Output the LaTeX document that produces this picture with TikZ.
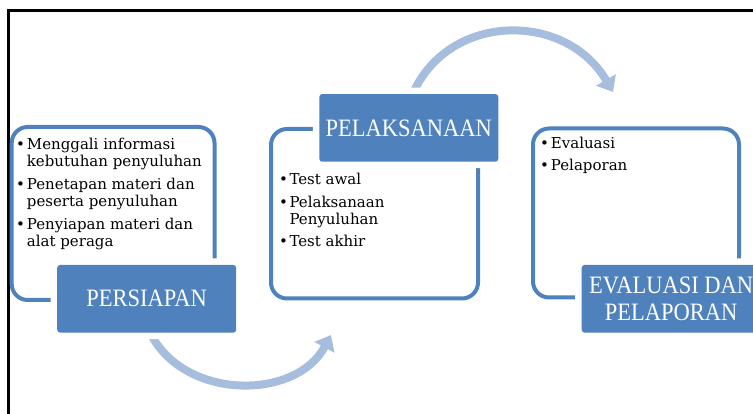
\documentclass[tikz,border=0pt]{standalone}
\usepackage{fontspec}
\usetikzlibrary{arrows.meta}
\newfontfamily\bodyfont{DejaVu Serif}
\newfontfamily\titlefont[FakeStretch=0.9]{Liberation Serif}
\definecolor{boxblue}{HTML}{4F81BD}
\definecolor{arrowblue}{HTML}{A7BDDD}
\begin{document}
\begin{tikzpicture}[x=1pt,y=-1pt,
  outline/.style={draw=boxblue, line width=4pt, rounded corners=16pt, inner sep=0pt},
  titlebox/.style={fill=boxblue, rounded corners=3pt, preaction={draw=white, line width=13pt},
    text=white, font=\titlefont\fontsize{25}{27}\selectfont, align=center, inner sep=0pt,
    minimum width=179pt, minimum height=67.7pt},
  flow/.style={draw=arrowblue, line width=8pt, -{Triangle[width=22pt,length=14pt]}},
  item/.style={anchor=base west, inner sep=0pt, font=\bodyfont\fontsize{15}{17}\selectfont}]
\useasboundingbox (0,0) rectangle (753,414);
\clip (0,0) rectangle (753,414);
% frame
\draw[line width=3.5pt] (8.7,430) -- (8.7,10.3) -- (770,10.3);
% outline boxes
\node[outline, minimum width=202.8pt, minimum height=173pt] (b1) at (113.1,213.5) {};
\node[outline, minimum width=207pt, minimum height=169.5pt] (b2) at (374.5,213.75) {};
\node[outline, minimum width=206pt, minimum height=169pt] (b3) at (636,213) {};
% arrows
\coordinate (a1s) at (149,330);
\coordinate (a1e) at (331,335);
\coordinate (a2s) at (411,98);
\coordinate (a2e) at (613,92);
\draw[flow] (a1s) .. controls (180,400) and (295,402) .. (a1e);
\draw[flow] (a2s) .. controls (445,12) and (565,10) .. (a2e);
% title boxes
\node[titlebox] (t1) at (146.7,298.8) {PERSIAPAN};
\node[titlebox] (t2) at (408.8,127.9) {PELAKSANAAN};
\node[titlebox] (t3) at (671.2,298.8) {EVALUASI DAN\\PELAPORAN};
% box 1 text
\node[item] (p1b) at (16,150) {•};
\node[item] (p1a) at (26.7,150) {Menggali informasi};
\node[item] (p1c) at (26.7,167) {kebutuhan penyuluhan};
\node[item] (p2b) at (16,190) {•};
\node[item] (p2a) at (26.7,190) {Penetapan materi dan};
\node[item] (p2c) at (26.7,207) {peserta penyuluhan};
\node[item] (p3b) at (16,229.5) {•};
\node[item] (p3a) at (26.7,229.5) {Penyiapan materi dan};
\node[item] (p3c) at (26.7,246.7) {alat peraga};
% box 2 text
\node[item] (q1b) at (279,185) {•};
\node[item] (q1a) at (289.3,185) {Test awal};
\node[item] (q2b) at (279,208) {•};
\node[item] (q2a) at (289.3,208) {Pelaksanaan};
\node[item] (q2c) at (289.3,225) {Penyuluhan};
\node[item] (q3b) at (279,247) {•};
\node[item] (q3a) at (289.3,247) {Test akhir};
% box 3 text
\node[item] (r1b) at (540,149) {•};
\node[item] (r1a) at (550.7,149) {Evaluasi};
\node[item] (r2b) at (540,171) {•};
\node[item] (r2a) at (550.7,171) {Pelaporan};
\end{tikzpicture}
\end{document}
